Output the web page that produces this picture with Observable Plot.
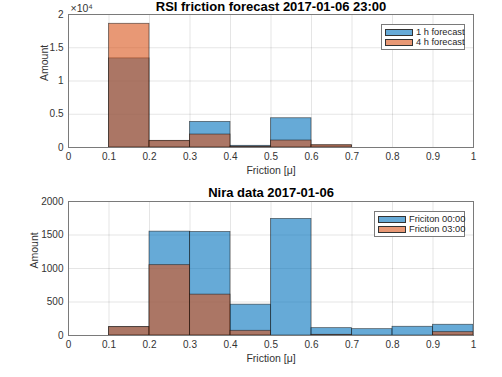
<!DOCTYPE html>
<html>
<head>
<meta charset="utf-8">
<script src="https://cdn.jsdelivr.net/npm/d3@7"></script>
<script src="https://cdn.jsdelivr.net/npm/@observablehq/plot@0.6"></script>
<style>
  html, body { margin: 0; padding: 0; background: #fff; }
  #wrap { position: relative; width: 502px; height: 377px; overflow: hidden; font-family: "Liberation Sans", Helvetica, Arial, sans-serif; }
  .panel { position: absolute; left: 0; }
  .legend { position: absolute; background: #fff; border: 1px solid #7a7a7a; font-size: 9.3px; color: #262626; box-sizing: border-box; padding: 2px 3px; white-space: nowrap; }
  .legend .row { display: flex; align-items: center; height: 10px; }
  .legend .sw { width: 28px; height: 7px; margin-right: 3px; border: 1px solid #333; box-sizing: border-box; flex: none; }
</style>
</head>
<body>
<div id="wrap"></div>
<script>
// Bin edges (friction µ)
const binStarts = [0, 0.1, 0.2, 0.3, 0.4, 0.5, 0.6, 0.7, 0.8, 0.9];
const binWidth = 0.1;
const xTicks = [0, 0.1, 0.2, 0.3, 0.4, 0.5, 0.6, 0.7, 0.8, 0.9, 1];

// Top panel: RSI friction forecast 2017-01-06 23:00
const rsiTitle = "RSI friction forecast 2017-01-06 23:00";
const rsiSeries = ["1 h forecast", "4 h forecast"];
const rsi1h = [0, 13400, 950, 3850, 250, 4400, 300, 0, 0, 0];
const rsi4h = [0, 18600, 1000, 1950, 120, 1050, 350, 0, 0, 0];
const rsiYTicks = [0, 5000, 10000, 15000, 20000];

// Bottom panel: Nira data 2017-01-06
const niraTitle = "Nira data 2017-01-06";
const niraSeries = ["Friciton 00:00", "Friction 03:00"];
const nira0000 = [0, 125, 1550, 1545, 460, 1740, 110, 95, 130, 160];
const nira0300 = [0, 125, 1050, 610, 70, 0, 10, 0, 0, 50];
const niraYTicks = [0, 500, 1000, 1500, 2000];

const xLabel = "Friction [\u03bc]";
const yLabel = "Amount";
const colors = ["#0072BD", "#D95319"];

function toRows(series, arrays) {
  const rows = [];
  arrays.forEach((arr, si) => {
    arr.forEach((v, i) => {
      if (v > 0) rows.push({s: series[si], x1: binStarts[i], x2: binStarts[i] + binWidth, y: v});
    });
  });
  return rows;
}

const font = "'Liberation Sans', Helvetica, Arial, sans-serif";

function panel({title, series, arrays, yTicks, yFmt, height, marginTop, marginBottom, ylabelOffset, titleY, exponent}) {
  const rows = toRows(series, arrays);
  const marks = [
    Plot.gridX(xTicks, {stroke: "#000", strokeOpacity: 0.1}),
    Plot.gridY(yTicks, {stroke: "#000", strokeOpacity: 0.1}),
    Plot.rect(rows, {x1: "x1", x2: "x2", y1: 0, y2: "y", fill: "s", fillOpacity: 0.6, stroke: "#111", strokeOpacity: 0.6, strokeWidth: 0.8}),
    Plot.frame({stroke: "#7a7a7a", strokeWidth: 1}),
    Plot.axisX(xTicks, {tickSize: 0, tickPadding: 5, tickFormat: d => String(+d.toFixed(1)), fontSize: 10, fill: "#333", label: null}),
    Plot.axisY(yTicks, {tickSize: 0, tickPadding: 5, tickFormat: yFmt, fontSize: 10, fill: "#333", label: null}),
    Plot.text([title], {frameAnchor: "top", dy: titleY - marginTop, fontSize: 13, fontWeight: "bold", fill: "#000", lineAnchor: "middle", text: d => d}),
    Plot.text([xLabel], {frameAnchor: "bottom", dy: 23, fontSize: 10.5, fill: "#333", lineAnchor: "middle", text: d => d}),
    Plot.text([yLabel], {frameAnchor: "left", dx: -ylabelOffset, rotate: -90, fontSize: 10.5, fill: "#333", lineAnchor: "middle", text: d => d})
  ];
  if (exponent) {
    marks.push(Plot.text([exponent], {frameAnchor: "top-left", dx: 2, dy: -6, fontSize: 10.5, fill: "#333", textAnchor: "start", lineAnchor: "middle", text: d => d}));
  }
  return Plot.plot({
    width: 502,
    height,
    marginLeft: 68,
    marginRight: 29,
    marginTop,
    marginBottom,
    style: {fontFamily: font, overflow: "visible", background: "transparent"},
    x: {domain: [0, 1]},
    y: {domain: [yTicks[0], yTicks[yTicks.length - 1]]},
    color: {domain: series, range: colors},
    marks
  });
}

function legend(series, left, top, width) {
  const lg = document.createElement("div");
  lg.className = "legend";
  lg.style.left = left + "px";
  lg.style.top = top + "px";
  lg.style.width = width + "px";
  series.forEach((s, i) => {
    const r = document.createElement("div");
    r.className = "row";
    const sw = document.createElement("div");
    sw.className = "sw";
    sw.style.background = d3.interpolateRgb("#ffffff", colors[i])(0.6);
    const t = document.createElement("span");
    t.textContent = s;
    r.appendChild(sw); r.appendChild(t);
    lg.appendChild(r);
  });
  return lg;
}

const wrap = document.getElementById("wrap");

const top1 = document.createElement("div");
top1.className = "panel"; top1.style.top = "0px";
top1.appendChild(panel({
  title: rsiTitle, series: rsiSeries, arrays: [rsi1h, rsi4h], yTicks: rsiYTicks,
  yFmt: d => String(d / 10000), height: 180, marginTop: 14, marginBottom: 33, ylabelOffset: 24,
  titleY: 6, exponent: "\u00d710\u2074"
}));
wrap.appendChild(top1);

const bot = document.createElement("div");
bot.className = "panel"; bot.style.top = "180px";
bot.appendChild(panel({
  title: niraTitle, series: niraSeries, arrays: [nira0000, nira0300], yTicks: niraYTicks,
  yFmt: d => String(d), height: 197, marginTop: 21, marginBottom: 42, ylabelOffset: 34,
  titleY: 12
}));
wrap.appendChild(bot);

wrap.appendChild(legend(rsiSeries, 381, 24, 84));
wrap.appendChild(legend(niraSeries, 374, 211, 91));
</script>
</body>
</html>
